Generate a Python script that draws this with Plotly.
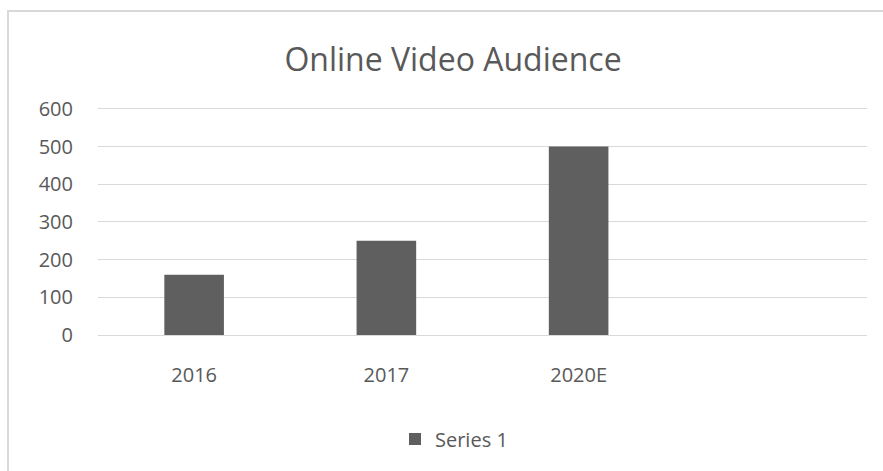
import plotly.graph_objects as go

categories = ["2016", "2017", "2020E", " "]
values = [160, 250, 500, None]
series_name = "Series 1"
y_ticks = [0, 100, 200, 300, 400, 500, 600]

W, H = 883, 471
L, R, T, B = 98, 16, 107, 136
pw, ph = W - L - R, H - T - B

def px_x(px):
    return (px - L) / pw

def px_y(py):
    return (H - B - py) / ph

fig = go.Figure()
fig.add_trace(go.Bar(
    x=categories, y=values, name=series_name,
    marker=dict(color="#5f5f5f", line=dict(width=0)),
    width=0.31, showlegend=True,
))

font = "Open Sans, Noto Sans, sans-serif"
fig.update_layout(
    width=W, height=H,
    margin=dict(l=L, r=R, t=T, b=B),
    paper_bgcolor="white", plot_bgcolor="white",
    font=dict(family=font, color="#595959", size=20),
    title=dict(text="Online Video Audience", x=453 / W, xref="container",
               xanchor="center", y=1 - 60 / H, yref="container", yanchor="middle",
               font=dict(size=32, color="#595959", family=font)),
    xaxis=dict(type="category", categoryorder="array", categoryarray=categories,
               range=[-0.5, 3.5], showgrid=False, showline=False, ticks="",
               ticklabelstandoff=26, tickfont=dict(size=20, color="#595959")),
    yaxis=dict(range=[0, 605], tickvals=y_ticks, showgrid=True, gridcolor="#d9d9d9",
               gridwidth=1, zeroline=True, zerolinecolor="#d9d9d9", zerolinewidth=1,
               showline=False, ticks="", ticklabelstandoff=24,
               tickfont=dict(size=20, color="#595959")),
    legend=dict(orientation="h", x=px_x(395), xanchor="left",
                y=px_y(439), yanchor="middle", font=dict(size=20, color="#595959"),
                itemwidth=30),
    shapes=[dict(type="rect", xref="paper", yref="paper",
                 x0=px_x(8), x1=px_x(895), y0=px_y(490), y1=px_y(11),
                 line=dict(color="#d9d9d9", width=2), fillcolor="rgba(0,0,0,0)",
                 layer="below")],
)

fig.write_html("out.html")
